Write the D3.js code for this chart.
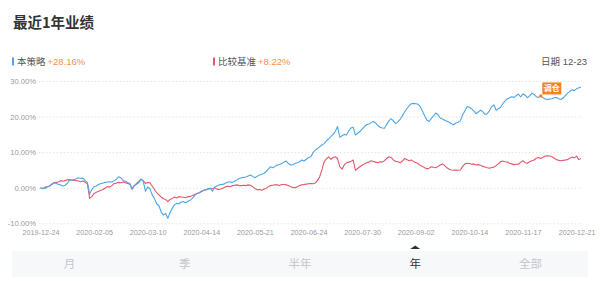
<!DOCTYPE html>
<html>
<head>
<meta charset="utf-8">
<script src="https://cdn.jsdelivr.net/npm/d3@7"></script>
<style>
  html, body { margin: 0; padding: 0; background: #fff; }
  svg { display: block; font-family: "Liberation Sans", "Noto Sans CJK SC", sans-serif; }
</style>
</head>
<body>
<svg id="chart" width="600" height="281"></svg>
<script>
// ---------- data ----------
const title = "最近1年业绩";
const seriesNames = ["本策略", "比较基准"];
const seriesTotals = ["+28.16%", "+8.22%"];
const dateLabel = "日期 12-23";
const xTickIndex = [0, 24, 48, 72, 96, 120, 144, 168, 192, 216, 240];
const xTickLabels = ["2019-12-24", "2020-02-05", "2020-03-10", "2020-04-14", "2020-05-21",
  "2020-06-24", "2020-07-30", "2020-09-02", "2020-10-14", "2020-11-17", "2020-12-21"];
const yTicks = [-10, 0, 10, 20, 30];
const tabs = ["月", "季", "半年", "年", "全部"];
const activeTab = "年";
const markerIndex = 224;
const markerText = "调仓";

// strategy cumulative return (%), one value per trading day
const strategy = [
  0, -0.3, -0.2, 0.2, 0.4, 0.9, 1.4, 1.2, 1.0, 0.8,
  0.5, 0.7, 1.2, 2.2, 2.1, 2.3, 2.5, 2.8, 2.6, 2.7,
  2.0, 1.5, -1.8, -0.5, 0.3, 0.5, 0.9, 1.2, 1.3, 1.5,
  1.6, 1.7, 1.6, 2.0, 2.4, 3.1, 2.8, 2.0, 1.8, 1.5,
  1.2, -0.5, 0.6, 1.0, 1.4, 2.4, 1.8, -1.0, 0.2, -0.3,
  -2.0, -3.0, -4.5, -5.0, -6.8, -7.7, -7.2, -8.6, -7.0, -5.8,
  -4.8, -4.4, -4.5, -4.0, -3.9, -4.2, -3.8, -3.5, -3.0, -2.2,
  -1.6, -1.4, -1.0, -0.7, -0.5, -0.3, -0.1, -1.0, 0.2, 0.5,
  0.8, 0.9, 1.0, 1.3, 1.6, 1.6, 1.5, 1.9, 2.2, 2.6,
  2.8, 2.9, 3.0, 3.3, 3.6, 3.2, 2.8, 3.2, 3.6, 3.8,
  4.0, 4.5, 5.2, 5.9, 5.6, 6.0, 6.4, 6.5, 6.8, 7.2,
  7.5, 6.8, 6.4, 6.5, 6.8, 7.0, 7.3, 7.8, 7.5, 8.0,
  8.5, 8.7, 9.8, 10.6, 11.0, 11.5, 12.0, 12.4, 13.2, 13.7,
  14.4, 15.0, 15.8, 17.2, 14.2, 14.6, 15.0, 14.8, 16.0, 16.8,
  17.0, 14.8, 15.3, 15.8, 16.5, 17.2, 17.7, 17.9, 18.3, 18.6,
  18.2, 17.5, 17.0, 16.8, 16.7, 17.8, 18.8, 19.4, 18.8, 18.0,
  18.5, 19.2, 20.2, 21.3, 22.2, 23.0, 23.6, 23.7, 23.6, 23.5,
  22.8, 21.5, 20.2, 19.0, 18.6, 19.5, 20.2, 21.0, 20.5, 19.6,
  19.3, 19.0, 18.7, 18.4, 18.0, 17.7, 18.2, 18.4, 18.8, 20.5,
  21.6, 22.8, 22.6, 22.2, 21.5, 20.8, 21.3, 21.8, 21.4, 20.6,
  20.8, 21.6, 22.8, 23.3, 21.8, 22.2, 22.6, 23.6, 24.4, 25.0,
  25.3, 25.6, 25.4, 25.9, 26.3, 25.5, 26.4, 26.0, 25.3, 25.8,
  26.6, 26.2, 25.6, 25.4, 25.8, 25.3, 24.9, 24.8, 24.9, 25.0,
  25.3, 25.4, 25.0, 24.8, 25.2, 25.9, 26.6, 27.1, 27.5, 27.3,
  27.8, 28.1, 28.16
];

// benchmark cumulative return (%)
const benchmark = [
  0, -0.2, 0.1, 0.3, 0.5, 1.0, 1.4, 1.5, 1.6, 2.0,
  1.8, 2.0, 2.2, 2.3, 2.1, 2.2, 2.0, 1.9, 1.7, 1.9,
  1.6, 1.0, -3.0, -2.5, -1.6, -1.3, -1.0, -0.7, -0.5, -0.1,
  0.3, 0.2, 0.6, 1.2, 1.3, 1.5, 1.4, 1.6, 1.4, 1.2,
  1.0, -0.2, 0.5, 1.2, 1.8, 2.4, 2.0, 1.2, 1.5, 1.4,
  0.5, -0.5, -1.4, -2.0, -2.6, -3.1, -3.3, -3.9, -3.3, -3.0,
  -2.6, -2.9, -2.5, -2.6, -2.7, -2.8, -2.5, -2.5, -2.2, -1.9,
  -1.7, -1.5, -1.1, -0.8, -0.6, -0.4, -0.2, -0.3, 0.0, -0.4,
  -0.5, -0.3, 0.0, 0.3, 0.4, 0.3, 0.6, 0.7, 0.8, 0.6,
  0.6, 0.7, 0.6, 0.8, 0.7, 0.3, -0.2, -0.6, -0.5, -0.7,
  -0.4, -0.2, 0.3, 0.6, 0.7, 0.8, 0.8, 0.6, 0.9, 0.9,
  0.8, 0.6, 0.3, 0.1, 0.0, 0.3, 0.6, 0.8, 0.9, 1.0,
  1.1, 1.2, 1.1, 1.3, 2.0, 3.1, 5.0, 7.3, 8.1, 8.7,
  8.0, 8.5, 8.7, 8.2, 5.9, 5.2, 6.4, 7.0, 7.2, 7.4,
  7.8, 4.9, 5.4, 5.9, 6.3, 6.7, 7.0, 7.2, 7.6, 7.4,
  7.2, 7.0, 7.3, 7.2, 7.6, 8.2, 8.7, 8.5, 7.8, 7.4,
  7.3, 7.0, 7.5, 8.2, 7.9, 7.6, 7.8, 7.4, 7.1, 6.8,
  6.3, 6.0, 5.6, 5.3, 5.5, 5.9, 5.7, 5.6, 6.0, 6.4,
  6.7, 6.2, 5.6, 5.2, 5.0, 4.9, 5.0, 4.9, 5.0, 6.0,
  6.7, 6.9, 6.8, 6.6, 6.7, 6.4, 6.5, 6.3, 6.0, 5.8,
  5.6, 5.5, 5.7, 5.8, 6.2, 6.7, 7.3, 7.5, 7.3, 7.2,
  6.9, 6.7, 6.5, 6.6, 6.6, 7.2, 7.6, 7.0, 6.9, 7.3,
  7.6, 7.8, 8.3, 8.5, 8.2, 8.6, 8.9, 9.0, 8.9, 8.7,
  8.3, 7.9, 7.7, 7.6, 7.7, 7.8, 7.9, 8.3, 8.6, 8.4,
  8.9, 7.9, 8.22
];

// ---------- drawing ----------
const svg = d3.select("#chart");
const colors = ["#4ea6e8", "#e3566e"];
const orange = "#f39150";

const x = d3.scaleLinear().domain([0, strategy.length - 1]).range([40.5, 581]);
const y = d3.scaleLinear().domain([-10, 30]).range([223.3, 81]);

// title
svg.append("text").attr("x", 13).attr("y", 27.5)
  .attr("font-size", 14.5).attr("font-weight", "bold").attr("fill", "#333")
  .attr("font-family", "'Noto Sans CJK SC', sans-serif")
  .text(title);

// legend
const legendX = [12, 213];
seriesNames.forEach((name, k) => {
  const g = svg.append("g").attr("transform", `translate(${legendX[k]},0)`);
  g.append("rect").attr("x", 0).attr("y", 57.5).attr("width", 2).attr("height", 8).attr("fill", colors[k]);
  const t = g.append("text").attr("x", 5).attr("y", 65).attr("font-size", 9.5);
  t.append("tspan").attr("fill", "#555").attr("font-family", "'Noto Sans CJK SC', sans-serif").text(name);
  t.append("tspan").attr("fill", orange).attr("dx", 2).text(seriesTotals[k]);
});
svg.append("text").attr("x", 587).attr("y", 65).attr("text-anchor", "end")
  .attr("font-size", 9.5).attr("fill", "#555").text(dateLabel);

// grid lines
svg.append("g").selectAll("line").data(yTicks).join("line")
  .attr("x1", 39).attr("x2", 582)
  .attr("y1", d => y(d) + 0.5).attr("y2", d => y(d) + 0.5)
  .attr("stroke", "#e4e4e4").attr("stroke-width", 1).attr("stroke-dasharray", "1.5,2");

// y axis
const yAxis = svg.append("g").attr("transform", "translate(36,0)")
  .call(d3.axisLeft(y).tickValues(yTicks).tickSize(0).tickPadding(0)
    .tickFormat(d => d.toFixed(2) + "%"));
yAxis.select(".domain").remove();
yAxis.selectAll("text").attr("font-size", 7.6).attr("fill", "#9a9a9a")
  .attr("font-family", "'Liberation Sans', sans-serif");

// x axis
const xAxis = svg.append("g").attr("transform", "translate(0,229.5)")
  .call(d3.axisBottom(x).tickValues(xTickIndex).tickSize(0).tickPadding(0)
    .tickFormat((d, i) => xTickLabels[i]));
xAxis.select(".domain").remove();
xAxis.selectAll("text").attr("font-size", 7.2).attr("fill", "#9a9a9a")
  .attr("font-family", "'Liberation Sans', sans-serif");

// lines
const line = d3.line().x((d, i) => x(i)).y(d => y(d));
[benchmark, strategy].forEach((data, k) => {
  svg.append("path").datum(data)
    .attr("fill", "none")
    .attr("stroke", k === 0 ? colors[1] : colors[0])
    .attr("stroke-width", 1.1)
    .attr("stroke-linejoin", "round")
    .attr("d", line);
});

// rebalance marker
const mx = x(markerIndex), my = y(strategy[markerIndex]);
svg.append("circle").attr("cx", mx).attr("cy", my).attr("r", 1.6).attr("fill", "#f5821f");
svg.append("rect").attr("x", mx + 1.5).attr("y", my - 13.5).attr("width", 19).attr("height", 12)
  .attr("fill", "#f5821f");
svg.append("text").attr("x", mx + 11).attr("y", my - 4.5).attr("text-anchor", "middle")
  .attr("font-size", 8).attr("font-weight", "bold").attr("fill", "#fff")
  .attr("font-family", "'Noto Sans CJK SC', sans-serif").text(markerText);

// bottom tab bar
const tabX = d3.scaleBand().domain(tabs).range([12, 588]);
svg.append("rect").attr("x", 12).attr("y", 251).attr("width", 576).attr("height", 26).attr("fill", "#f7f8fa");
svg.append("g").selectAll("text").data(tabs).join("text")
  .attr("x", d => tabX(d) + tabX.bandwidth() / 2)
  .attr("y", 268)
  .attr("text-anchor", "middle")
  .attr("font-size", 11.5)
  .attr("font-family", "'Noto Sans CJK SC', sans-serif")
  .attr("fill", d => d === activeTab ? "#333" : "#c3c6cc")
  .text(d => d);
const ax = tabX(activeTab) + tabX.bandwidth() / 2;
svg.append("path")
  .attr("d", `M${ax - 5},249 L${ax},245.5 L${ax + 5},249 Z`)
  .attr("fill", "#333");
</script>
</body>
</html>
